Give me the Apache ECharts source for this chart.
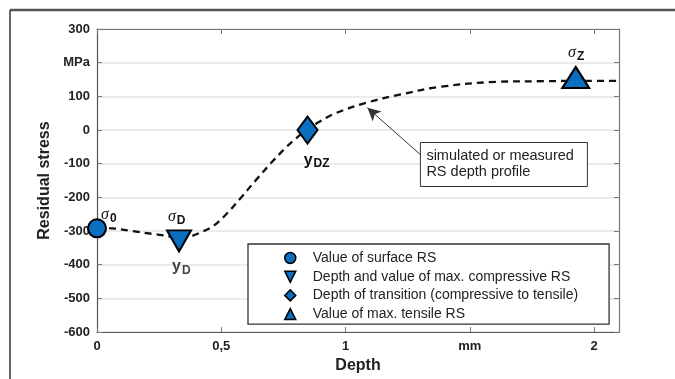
<!DOCTYPE html>
<html>
<head>
<meta charset="utf-8">
<script src="https://cdn.jsdelivr.net/npm/echarts@6/dist/echarts.min.js"></script>
<style>
html,body{margin:0;padding:0;background:#fff;}
#c{width:675px;height:379px;}
</style>
</head>
<body>
<div id="c"></div>
<script>
// ---- data ----
const depth  = [0, 0.064, 0.14, 0.24, 0.33, 0.373, 0.42, 0.466, 0.52, 0.58, 0.64, 0.70, 0.76, 0.80, 0.843, 0.896, 0.96, 1.084, 1.217, 1.377, 1.606, 1.8, 1.95, 2.1];
const stress = [-290, -292, -300, -310, -318, -316, -303, -286, -250, -200, -148, -98, -52, -25, 0, 25, 50, 81, 105, 128, 143, 145, 146, 146];

const surfacePoint   = [0, -292];
const compPoint      = [0.33, -329];
const transPoint     = [0.847, 0];
const tensilePoint   = [1.926, 156];

const legendNames = [
  'Value of surface RS',
  'Depth and value of max. compressive RS',
  'Depth of transition (compressive to tensile)',
  'Value of max. tensile RS'
];

const xTickValues = [0, 0.5, 1, 1.5, 2];
const xTickLabels = ['0', '0,5', '1', 'mm', '2'];
const yTickValues = [300, 200, 100, 0, -100, -200, -300, -400, -500, -600];
const yTickLabels = ['300', 'MPa', '100', '0', '-100', '-200', '-300', '-400', '-500', '-600'];

const arrowFrom = [1.301, -73];
const arrowTo   = [1.088, 66];
const noteAnchor = [1.301, -37];
const noteText = 'simulated or measured\nRS depth profile';

// ---- chart ----
const chart = echarts.init(document.getElementById('c'), null, {renderer: 'canvas'});
const BLUE = '#0a6fc1';
const FONT = 'Liberation Sans, Arial, sans-serif';
const rich = {
  s:   {fontFamily: 'Liberation Serif, serif', fontStyle: 'italic', fontSize: 16, color: '#111'},
  y:   {fontFamily: FONT, fontWeight: 'bold', fontSize: 16, color: '#111'},
  sub: {fontFamily: FONT, fontWeight: 'bold', fontSize: 12, color: '#111', padding: [7, 0, 0, 1]}
};
function lbl(text, pos) {
  return {show: true, formatter: text, position: pos, align: 'left', verticalAlign: 'middle', rich: rich};
}
const downTri = 'path://M0,0L10,0L5,10Z';

function fmtX(v) {
  const i = xTickValues.findIndex(t => Math.abs(t - v) < 1e-6);
  return i >= 0 ? xTickLabels[i] : '';
}
function fmtY(v) {
  const i = yTickValues.findIndex(t => Math.abs(t - v) < 1e-6);
  return i >= 0 ? yTickLabels[i] : '';
}

const option = {
  animation: false,
  backgroundColor: '#fff',
  grid: {left: 97, right: 56, top: 29, bottom: 46, show: false},
  xAxis: [{
    type: 'value', min: 0, max: 2.1, interval: 0.5,
    name: 'Depth', nameLocation: 'middle', nameGap: 25,
    nameTextStyle: {fontFamily: FONT, fontWeight: 'bold', fontSize: 16, color: '#222'},
    axisLine: {show: true, onZero: false, lineStyle: {color: '#555', width: 1.2}},
    axisTick: {show: true, inside: true, length: 5, lineStyle: {color: '#777'}},
    axisLabel: {formatter: fmtX, fontFamily: FONT, fontWeight: 'bold', fontSize: 13, color: '#222', margin: 8},
    splitLine: {show: false}
  }, {
    type: 'value', position: 'top', min: 0, max: 2.1, interval: 0.5,
    axisLine: {show: true, onZero: false, lineStyle: {color: '#777', width: 1.2}},
    axisTick: {show: true, inside: true, length: 5, lineStyle: {color: '#777'}},
    axisLabel: {show: false}, splitLine: {show: false}
  }],
  yAxis: [{
    type: 'value', min: -600, max: 300, interval: 100,
    name: 'Residual stress', nameLocation: 'middle', nameGap: 38,
    nameTextStyle: {fontFamily: FONT, fontWeight: 'bold', fontSize: 16, color: '#222'},
    axisLine: {show: true, onZero: false, lineStyle: {color: '#555', width: 1.2}},
    axisTick: {show: true, inside: true, length: 5, lineStyle: {color: '#777'}},
    axisLabel: {formatter: fmtY, fontFamily: FONT, fontWeight: 'bold', fontSize: 13, color: '#222', margin: 7},
    splitLine: {show: true, lineStyle: {color: '#e4e4e4', width: 1.5}}
  }, {
    type: 'value', position: 'right', min: -600, max: 300, interval: 100,
    axisLine: {show: true, onZero: false, lineStyle: {color: '#777', width: 1.2}},
    axisTick: {show: true, inside: true, length: 5, lineStyle: {color: '#777'}},
    axisLabel: {show: false}, splitLine: {show: false}
  }],
  legend: {
    orient: 'vertical', left: 248, top: 244,
    padding: [7, 31, 3, 36],
    itemWidth: 11, itemHeight: 11, itemGap: 4.7,
    borderColor: '#333', borderWidth: 1.3, backgroundColor: '#fff',
    selectedMode: false,
    textStyle: {fontFamily: FONT, fontSize: 14, color: '#222', lineHeight: 14, padding: [0, 0, 0, 12]},
    data: [
      {name: legendNames[0], icon: 'circle'},
      {name: legendNames[1], icon: downTri},
      {name: legendNames[2], icon: 'diamond'},
      {name: legendNames[3], icon: 'triangle'}
    ],
    itemStyle: {color: BLUE, borderColor: '#000', borderWidth: 1.5}
  },
  series: [
    {
      name: 'profile', type: 'line', smooth: 0.35, symbol: 'none', z: 2,
      data: depth.map((d, i) => [d, stress[i]]),
      lineStyle: {color: '#111', width: 2.3, type: [7, 5]},
      markLine: {
        silent: true, symbol: ['none', 'arrow'], symbolSize: [10, 13],
        label: {show: false},
        lineStyle: {color: '#333', width: 1, type: 'solid'},
        data: [[{coord: arrowFrom}, {coord: arrowTo}]]
      }
    },
    {
      name: legendNames[0], type: 'scatter', z: 5, symbol: 'circle', symbolSize: 18,
      itemStyle: {color: BLUE, borderColor: '#000', borderWidth: 2, opacity: 1},
      label: lbl('{s|σ}{sub|0}', [14, -3.5]),
      data: [surfacePoint]
    },
    {
      name: legendNames[1], type: 'scatter', z: 5, symbol: downTri, symbolSize: [24, 21], symbolKeepAspect: false,
      itemStyle: {color: BLUE, borderColor: '#000', borderWidth: 2, opacity: 1},
      label: lbl('{s|σ}{sub|D}', [2, -12.5]),
      data: [compPoint]
    },
    {
      name: legendNames[2], type: 'scatter', z: 5, symbol: 'diamond', symbolSize: [20, 27],
      itemStyle: {color: BLUE, borderColor: '#000', borderWidth: 2, opacity: 1},
      label: lbl('{y|y}{sub|DZ}', [7, 45]),
      data: [transPoint]
    },
    {
      name: legendNames[3], type: 'scatter', z: 5, symbol: 'triangle', symbolSize: [27, 21],
      itemStyle: {color: BLUE, borderColor: '#000', borderWidth: 2, opacity: 1},
      label: lbl('{s|σ}{sub|Z}', [7, -13]),
      data: [tensilePoint]
    },
    {
      name: 'yD-label', type: 'scatter', z: 4, symbol: downTri, symbolSize: [24, 21], silent: true,
      itemStyle: {color: 'rgba(0,0,0,0)', borderWidth: 0},
      label: lbl('{y|y}{sub|D}', [5, 36.5]),
      data: [compPoint]
    }
  ]
};
chart.setOption(option);

const p = chart.convertToPixel({gridIndex: 0}, noteAnchor);
chart.setOption({
  graphic: [
    {type: 'line', shape: {x1: 10, y1: 10, x2: 675, y2: 10}, style: {stroke: '#555', lineWidth: 2.5}, z: 100},
    {type: 'line', shape: {x1: 10, y1: 10, x2: 10, y2: 379}, style: {stroke: '#333', lineWidth: 1.5}, z: 100},
    {type: 'rect', shape: {x: p[0], y: p[1], width: 167, height: 44},
     style: {fill: '#fff', stroke: '#333', lineWidth: 1}, z: 50},
    {type: 'text', x: p[0] + 6, y: p[1] + 6, z: 51,
     style: {text: noteText, font: '14.5px Liberation Sans, Arial, sans-serif', fill: '#222', lineHeight: 16}}
  ]
});
</script>
</body>
</html>
